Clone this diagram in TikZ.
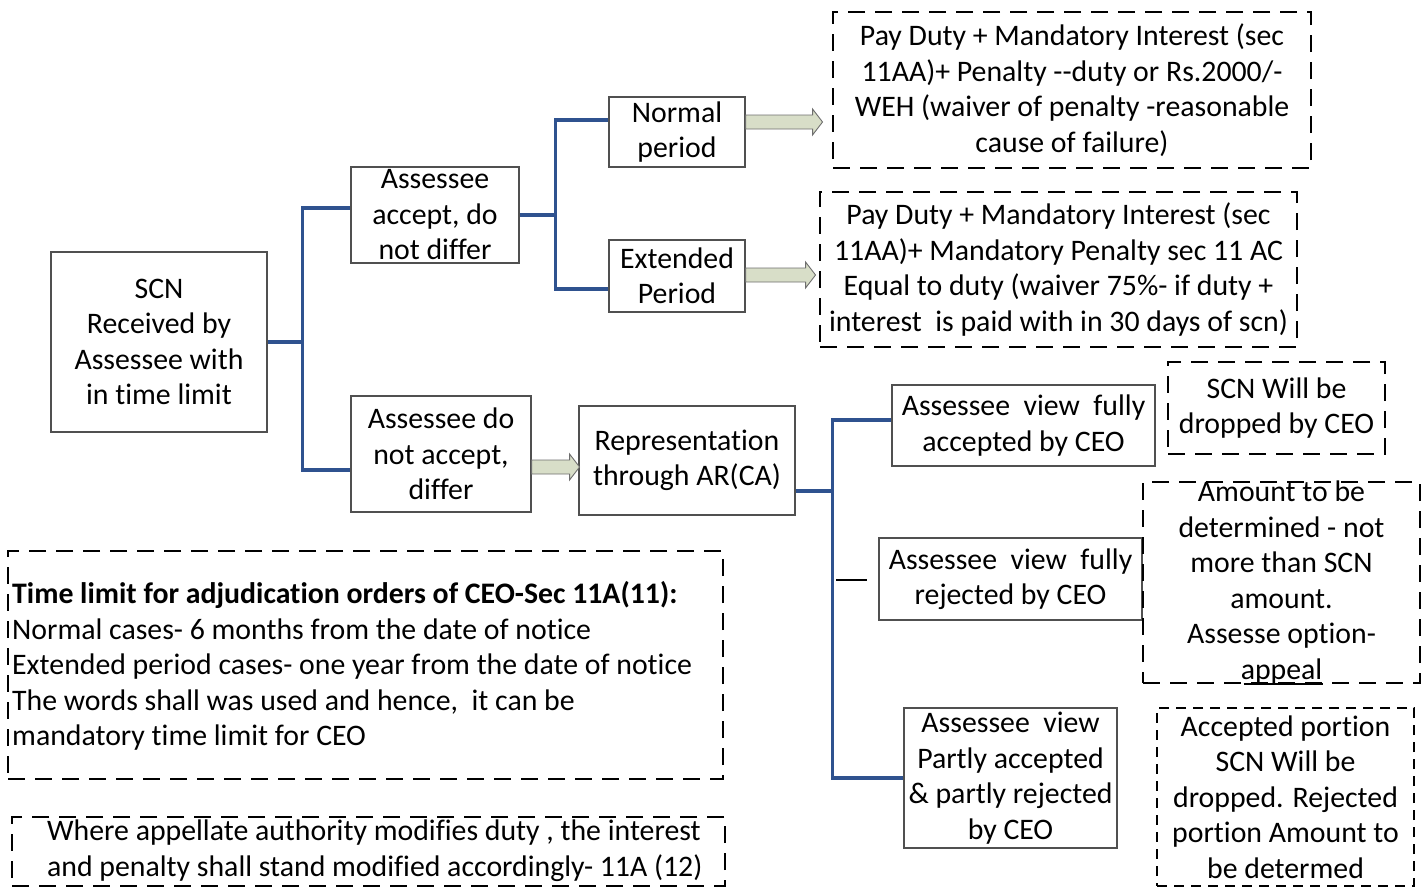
\documentclass[tikz,border=0pt]{standalone}
\usepackage{fontspec}
\setmainfont{Carlito}[Ligatures={NoCommon}]
\usetikzlibrary{calc}
\definecolor{connblue}{RGB}{47,82,143}
\definecolor{arrfill}{RGB}{216,222,200}
\definecolor{arrline}{RGB}{110,110,110}
\definecolor{boxgray}{RGB}{80,80,80}
\newcommand\blockarrow[2]{%
  \draw[barrow] ($#1+(0,-7)$) -- ++(#2-10,0) -- ++(0,-6) -- ++(10,13) -- ++(-10,13) -- ++(0,-6) -- ++(-#2+10,0) -- cycle;}
\begin{document}
\begin{tikzpicture}[x=1pt,y=-1pt,
  sbox/.style={draw=boxgray, line width=1.1pt, inner sep=0pt, rectangle},
  dbox/.style={draw=black, line width=2.4pt, dash pattern=on 17pt off 10pt, inner sep=0pt, rectangle},
  dboxthin/.style={draw=black, line width=1.7pt, dash pattern=on 10pt off 7pt, inner sep=0pt, rectangle},
  txt/.style={align=center, inner sep=0pt, font=\fontsize{29.8}{35.5}\selectfont},
  conn/.style={draw=connblue, line width=3.5pt},
  barrow/.style={draw=arrline, fill=arrfill, line width=0.9pt, line join=miter}]
\useasboundingbox (0,0) rectangle (1427,889);

% solid boxes
\node[sbox, minimum width=216, minimum height=180] (scn) at (159,342) {};
\node[txt] at (scn) {SCN\\Received by\\Assessee with\\in time limit};
\node[sbox, minimum width=168, minimum height=96] (acc) at (435,215) {};
\node[txt] at (acc) {Assessee\\accept, do\\not differ};
\node[sbox, minimum width=180, minimum height=116] (dna) at (441,454) {};
\node[txt] at (dna) {Assessee do\\not accept,\\differ};
\node[sbox, minimum width=136, minimum height=70] (norm) at (677,132) {};
\node[txt] at (norm) {Normal\\period};
\node[sbox, minimum width=136, minimum height=72] (ext) at (677,276) {};
\node[txt] at (ext) {Extended\\Period};
\node[sbox, minimum width=216, minimum height=109] (rep) at (687,460.5) {};
\node[txt] at (rep) {Representation\\through AR(CA)};
\node[sbox, minimum width=263, minimum height=81] (fa) at (1023.5,425.5) {};
\node[txt] at (fa) {Assessee\ \ view\ \ fully\\accepted by CEO};
\node[sbox, minimum width=263, minimum height=82] (fr) at (1010.5,579) {};
\node[txt] at (fr) {Assessee\ \ view\ \ fully\\rejected by CEO};
\node[sbox, minimum width=213, minimum height=140] (pa) at (1010.5,778) {};
\node[txt] at (pa) {Assessee\ \ view\\Partly accepted\\\& partly rejected\\by CEO};

% dashed boxes
\node[dbox, minimum width=478, minimum height=156] (r1) at (1072,90) {};
\node[txt] at (r1) {Pay Duty + Mandatory Interest (sec\\11AA)+ Penalty -{}-duty or Rs.2000/-\\WEH (waiver of penalty -reasonable\\cause of failure)};
\node[dbox, minimum width=477, minimum height=155] (r2) at (1058.5,269.5) {};
\node[txt] at (r2) {Pay Duty + Mandatory Interest (sec\\11AA)+ Mandatory Penalty sec 11 AC\\Equal to duty (waiver 75\%- if duty +\\interest\ \ is paid with in 30 days of scn)};
\node[dbox, minimum width=217, minimum height=92] (drop) at (1276.5,408) {};
\node[txt] at (drop) {SCN Will be\\dropped by CEO};
\node[dbox, minimum width=277, minimum height=201] (amt) at (1281.5,582.5) {};
\node[txt] at (amt) {Amount to be\\determined - not\\more than SCN\\amount.\\Assesse option-\\appeal};
\draw[line width=2pt] ($(amt.south)+(-38,0)$) -- ($(amt.south)+(41,0)$);
\node[dboxthin, minimum width=257, minimum height=178] (apr) at (1285.5,797) {};
\node[txt] at (apr) {Accepted portion\\SCN Will be\\dropped. Rejected\\portion Amount to\\be determed};
\node[dbox, minimum width=715, minimum height=228] (tl) at (365.5,665) {};
\node[txt, align=left, anchor=west] at (12,666) {\textbf{Time limit for adjudication orders of CEO-Sec 11A(11):}\\Normal cases- 6 months from the date of notice\\Extended period cases- one year from the date of notice\\The words shall was used and hence,\ \ it can be\\mandatory time limit for CEO};
\node[dbox, minimum width=713, minimum height=69] (wa) at (368.5,851.5) {};
\node[txt, align=left, anchor=west] at (47,850.5) {Where appellate authority modifies duty , the interest\\and penalty shall stand modified accordingly- 11A (12)};

% blue connectors
\draw[conn] (scn.east) -- ++(35,0) coordinate (bus1);
\draw[conn] (bus1) |- ($(acc.west)+(0,-7)$);
\draw[conn] (bus1) |- ($(dna.west)+(0,16)$);
\draw[conn] (acc.east) -- ++(36,0) coordinate (bus2);
\draw[conn] (bus2) |- ($(norm.west)+(0,-12)$);
\draw[conn] (bus2) |- ($(ext.west)+(0,13)$);
\draw[conn] ($(rep.east)+(0,30.5)$) -- ++(37,0) coordinate (bus3);
\draw[conn] (bus3) |- ($(fa.west)+(0,-5.5)$);
\draw[conn] (bus3) |- (pa.west);
\draw[line width=2pt] ($(fr.west)+(-42,1)$) -- ++(31,0);

% block arrows
\blockarrow{(norm.east)+(0,-10)}{77}
\blockarrow{(ext.east)+(0,-1)}{70}
\blockarrow{(dna.east)+(0,13)}{48}
\end{tikzpicture}
\end{document}
